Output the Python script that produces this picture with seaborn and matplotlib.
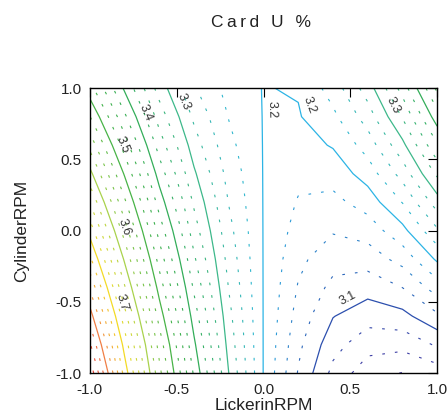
import numpy as np
import matplotlib
matplotlib.use('Agg')
import matplotlib.pyplot as plt
import seaborn as sns

# Coded factor levels (grid the surface was read on)
lickerin_rpm = [-1.0, -0.8, -0.6, -0.4, -0.2, 0.0, 0.2, 0.4, 0.6, 0.8, 1.0]
cylinder_rpm = [-1.0, -0.8, -0.6, -0.4, -0.2, 0.0, 0.2, 0.4, 0.6, 0.8, 1.0]

# Card U %, one row per CylinderRPM (from -1.0 up to 1.0)
card_u = [
    [3.895, 3.715, 3.558, 3.421, 3.300, 3.199, 3.123, 3.068, 3.035, 3.024, 3.036],
    [3.854, 3.690, 3.540, 3.405, 3.291, 3.199, 3.131, 3.084, 3.060, 3.058, 3.078],
    [3.813, 3.660, 3.515, 3.388, 3.283, 3.199, 3.140, 3.101, 3.085, 3.092, 3.120],
    [3.772, 3.628, 3.490, 3.371, 3.274, 3.199, 3.148, 3.118, 3.110, 3.125, 3.162],
    [3.731, 3.596, 3.465, 3.354, 3.266, 3.199, 3.156, 3.135, 3.136, 3.159, 3.204],
    [3.690, 3.563, 3.440, 3.337, 3.258, 3.199, 3.165, 3.152, 3.161, 3.192, 3.246],
    [3.649, 3.530, 3.414, 3.321, 3.249, 3.199, 3.173, 3.168, 3.186, 3.226, 3.288],
    [3.608, 3.497, 3.389, 3.304, 3.241, 3.199, 3.182, 3.185, 3.211, 3.260, 3.330],
    [3.567, 3.463, 3.364, 3.287, 3.232, 3.199, 3.190, 3.202, 3.236, 3.293, 3.372],
    [3.526, 3.430, 3.339, 3.270, 3.224, 3.199, 3.198, 3.219, 3.262, 3.327, 3.414],
    [3.485, 3.396, 3.314, 3.253, 3.216, 3.199, 3.202, 3.236, 3.287, 3.360, 3.456],
]

major_levels = [3.1, 3.2, 3.3, 3.4, 3.5, 3.6, 3.7, 3.8]
minor_levels = [round(m + d, 3) for m in [3.0] + major_levels for d in (0.025, 0.05, 0.075)]

# colour for 3.0, 3.1, ... 3.9
level_colors = ['#4b2c9a', '#2c4fae', '#2cb6e6', '#3db88a', '#33ad58',
                '#47b347', '#a9d24c', '#f3dc25', '#f07f45', '#e3262b']

tick_vals = [-1.0, -0.5, 0.0, 0.5, 1.0]
tick_labels = ['-1.0', '-0.5', '0.0', '0.5', '1.0']

# label spots on the major lines
label_spots = [(0.5, -0.5), (0.0, 0.85), (0.17, 0.85), (-0.55, 0.86), (0.68, 0.84),
               (-0.75, 0.79), (-0.885, 0.565), (-0.86, 0.0), (-0.87, -0.52)]

sns.set_style('white')
plt.rcParams['font.family'] = ['Liberation Sans', 'DejaVu Sans']


def spaced(s):
    return '\u2009'.join(s)


fig = plt.figure(figsize=(4.47, 4.16), dpi=100)
fig.subplots_adjust(left=0.201, right=0.978, bottom=0.103, top=0.788)
ax = fig.add_subplot(111)

X, Y = np.meshgrid(lickerin_rpm, cylinder_rpm)
Z = np.array(card_u)
cmap = sns.blend_palette(level_colors, n_colors=256, as_cmap=True)
norm = plt.Normalize(3.0, 3.9)

ax.contour(X, Y, Z, levels=minor_levels, cmap=cmap, norm=norm,
           linewidths=0.8, linestyles=[(0, (2.4, 9))])
cs = ax.contour(X, Y, Z, levels=major_levels, cmap=cmap, norm=norm, linewidths=0.9)

ax.set_xlim(-1, 1)
ax.set_ylim(-1, 1)

labels = ax.clabel(cs, inline=False, fontsize=9, colors='#333333', fmt='%.1f',
                   manual=label_spots)
fig.canvas.draw()
for t in labels:
    # keep every label reading downward/rightward, then push it off the line
    rot = (t.get_rotation() + 180) % 360 - 180
    if rot > 45:
        rot -= 180
    elif rot <= -135:
        rot += 180
    t.set_rotation(rot)
    ang = np.deg2rad(rot)
    px, py = ax.transData.transform(t.get_position())
    off = 10
    t.set_position(ax.transData.inverted().transform((px - np.sin(ang) * off, py + np.cos(ang) * off)))
    t.set_clip_on(False)

ax.set_xticks(tick_vals)
ax.set_xticklabels(tick_labels)
ax.set_yticks(tick_vals)
ax.set_yticklabels(tick_labels)
ax.tick_params(direction='in', length=6.5, width=0.8, color='black',
               top=True, right=True, labelsize=11, labelcolor='#222222')
ax.tick_params(axis='x', pad=7)
ax.tick_params(axis='y', pad=6)
for s in ax.spines.values():
    s.set_color('black')
    s.set_linewidth(1.0)

ax.set_xlabel('LickerinRPM', fontsize=12.5, color='#222222', labelpad=1)
ax.set_ylabel('CylinderRPM', fontsize=12.5, color='#222222')
ax.yaxis.set_label_coords(-0.176, 0.5)
fig.text(0.585, 0.947, spaced('Card U %'), ha='center', va='center',
         fontsize=12.5, color='#222222')

fig.savefig('out.png', dpi=100)
